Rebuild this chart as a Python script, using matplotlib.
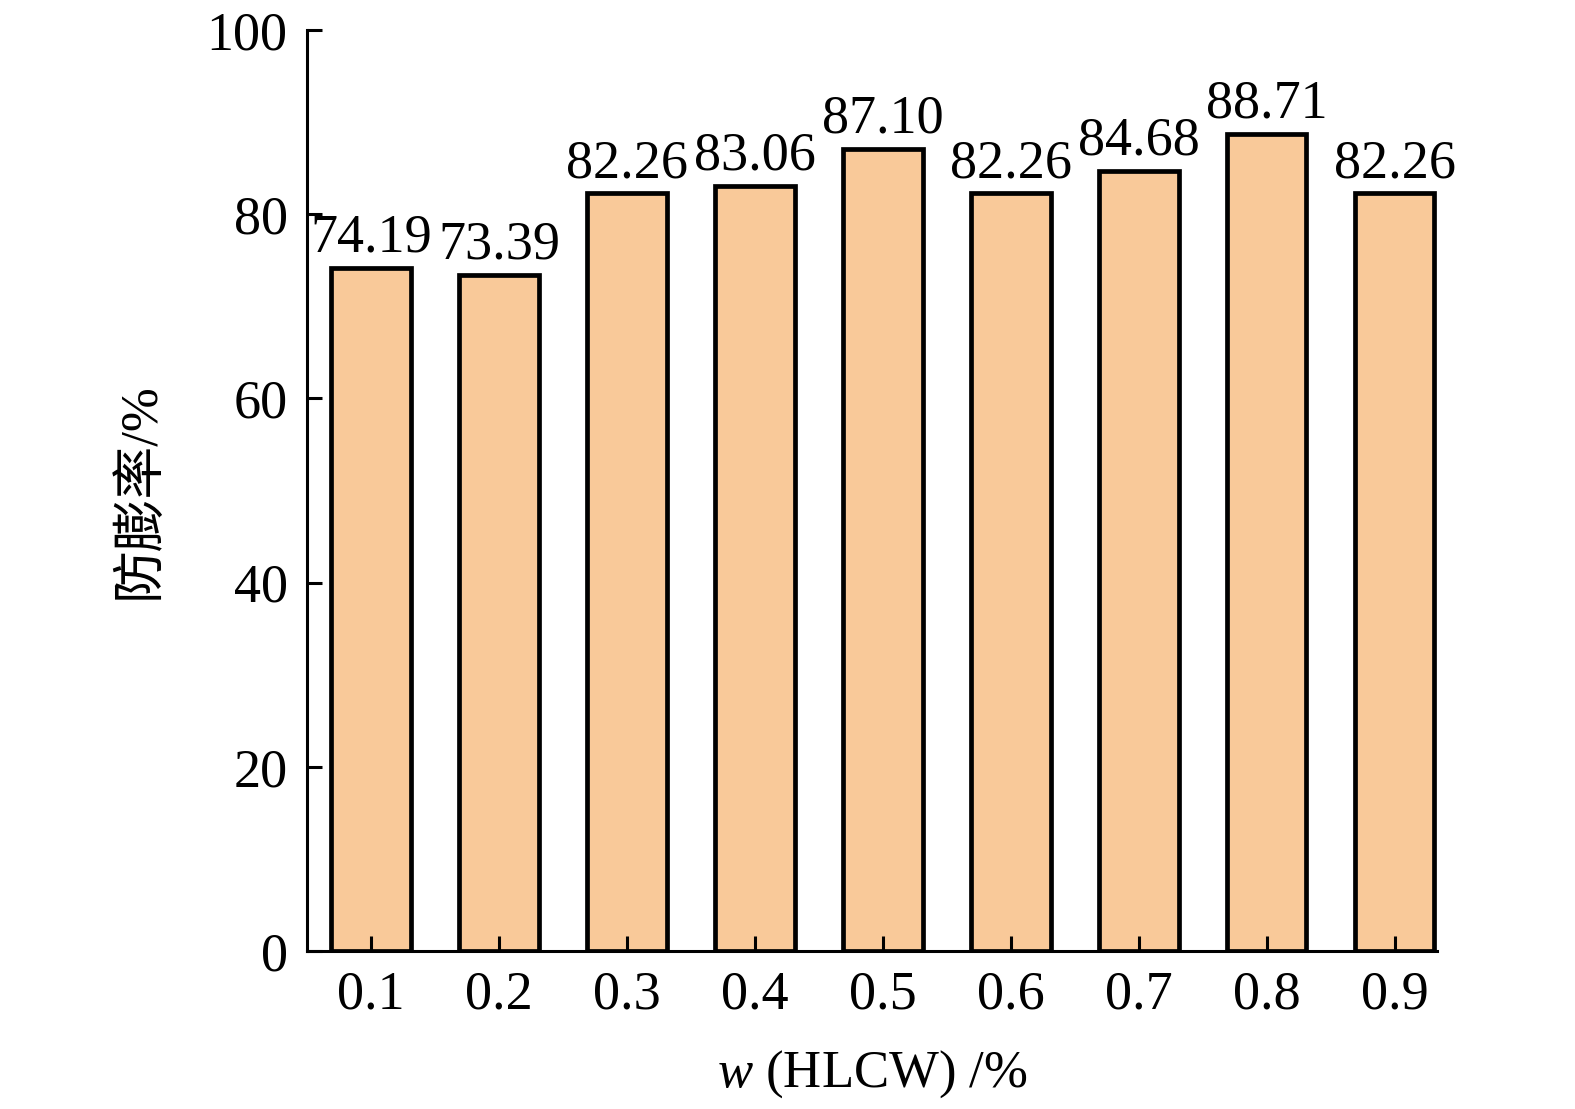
import matplotlib
matplotlib.use("Agg")
import matplotlib.pyplot as plt

# mass fraction of HLCW (%) and anti-swelling rate (%)
categories = ["0.1", "0.2", "0.3", "0.4", "0.5", "0.6", "0.7", "0.8", "0.9"]
rates = [74.19, 73.39, 82.26, 83.06, 87.10, 82.26, 84.68, 88.71, 82.26]
yticks = [0, 20, 40, 60, 80, 100]

plt.rcParams['font.family'] = ['Liberation Serif', 'Noto Sans CJK SC']
plt.rcParams['mathtext.fontset'] = 'custom'
plt.rcParams['mathtext.it'] = 'Liberation Serif:italic'
plt.rcParams['mathtext.rm'] = 'Liberation Serif'

fig = plt.figure(figsize=(15.75, 11.09), dpi=100)
ax = fig.add_axes([0.1949, 0.1425, 0.9124 - 0.1949, 0.973 - 0.1425])

x = range(len(categories))
bars = ax.bar(x, rates, width=0.62, color='#F9C999', edgecolor='black', linewidth=3.4)
ax.bar_label(bars, labels=[f"{v:.2f}" for v in rates], padding=3, fontsize=39)

ax.set_xlim(-0.5, 8.33)
ax.set_ylim(0, 100)
ax.set_xticks(list(x))
ax.set_xticklabels(categories)
ax.set_yticks(yticks)

for side in ['top', 'right']:
    ax.spines[side].set_visible(False)
for side in ['left', 'bottom']:
    ax.spines[side].set_linewidth(2.2)

ax.tick_params(axis='both', direction='in', length=11, width=2.2, labelsize=39)
ax.tick_params(axis='x', pad=14)
ax.tick_params(axis='y', pad=14)

ax.set_xlabel(r'$w$ (HLCW) /%', fontsize=38, labelpad=20)
ax.set_ylabel('防膨率/%', fontsize=38, labelpad=30)

fig.savefig('out.png', dpi=100)
